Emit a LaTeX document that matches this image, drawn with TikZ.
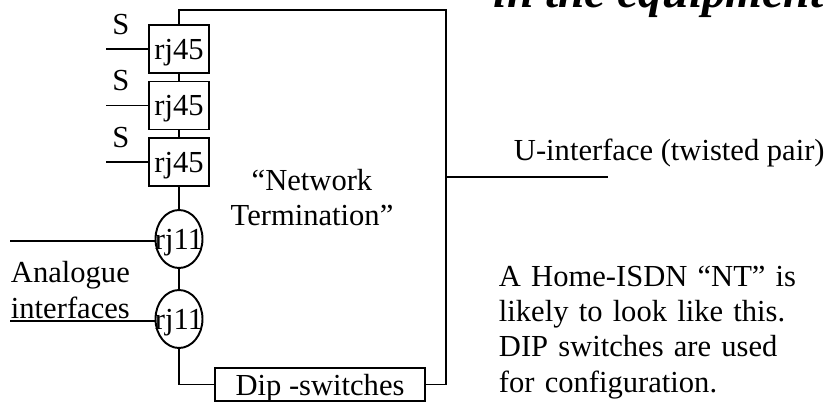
\documentclass[tikz,border=0pt]{standalone}
\usepackage{fontspec}
\setmainfont{Liberation Serif}
\usetikzlibrary{shapes.geometric}

\begin{document}
\begin{tikzpicture}[x=0.02cm,y=-0.02cm,line width=1.1pt]
    \pgfmathsetmacro{\spinex}{179}
    \pgfmathsetmacro{\framex}{446}
    \pgfmathsetmacro{\frametop}{10}
    \pgfmathsetmacro{\wirestart}{106}
    \pgfmathsetmacro{\analoguestart}{10}
    \providecommand{\labelfontsize}{\fontsize{17.4pt}{20.2pt}\selectfont}
    \providecommand{\titlefontsize}{\fontsize{27pt}{30pt}\selectfont}
    \tikzset{
        caption/.style={inner sep=0,font=\labelfontsize},
        jack/.style={draw,rectangle,minimum width=1.2cm,minimum height=0.96cm,inner sep=0,text depth=0pt,font=\labelfontsize},
        socket/.style={draw,ellipse,minimum width=0.94cm,minimum height=1.16cm,inner sep=0,
            label={[caption,text depth=0pt]center:rj11}},
        switchbox/.style={draw,rectangle,minimum width=4.2cm,minimum height=0.66cm,inner sep=0,text depth=0pt,font=\labelfontsize}
    }
    \useasboundingbox (0,0) rectangle (840,403);
    \clip (0,0) rectangle (840,403);
    \node[anchor=base west,inner sep=0,font=\titlefontsize\bfseries\itshape] (title) at (493,7) {in the equipment};
    % S-bus sockets
    \foreach \n/\y in {1/49,2/105.5,3/162}{
        \node[jack] (s\n) at (\spinex,\y) {rj45};
        \coordinate (w\n) at (\wirestart,\y);
        \draw (w\n) -- (s\n.west);
        \node[caption,anchor=base] (S\n) at (121,\y-15) {S};
    }
    \node[socket] (a1) at (\spinex,239) {};
    \node[socket] (a2) at (\spinex,319) {};
    \node[switchbox] (dip) at (320,384.5) {Dip -switches};
    \coordinate (tl) at (\spinex,\frametop);
    \coordinate (tr) at (\framex,\frametop);
    \draw (s1.north) -- (tl) -- (tr) |- (dip.east);
    \draw (s1.south) -- (s2.north);
    \draw (s2.south) -- (s3.north);
    \draw (s3.south) -- (a1.north);
    \draw (a1.south) -- (a2.north);
    \draw (a2.south) |- (dip.west);
    \coordinate (w4) at (\analoguestart,241);
    \coordinate (w5) at (\analoguestart,321);
    \draw (w4) -- (w4 -| a1.west);
    \draw (w5) -- (w5 -| a2.west);
    \coordinate (ujoin) at (\framex,177);
    \coordinate (uend) at (608,177);
    \draw (ujoin) -- (uend);
    \node[caption,anchor=base west] (ulabel) at (513,160) {U-interface (twisted pair)};
    \node[caption,anchor=base,text width=5cm,align=center] (nt) at (312,190) {``Network\\Termination''};
    \node[caption,anchor=base west] (an1) at (\analoguestart,282) {Analogue};
    \node[caption,anchor=base west] (an2) at (\analoguestart,318) {interfaces};
    \node[caption,anchor=base west,text width=7cm,align=left] (note) at (498,286)
    {A Home-ISDN ``NT'' is\\likely to look like this.\\DIP switches are used\\for configuration.};
\end{tikzpicture}
\end{document}
